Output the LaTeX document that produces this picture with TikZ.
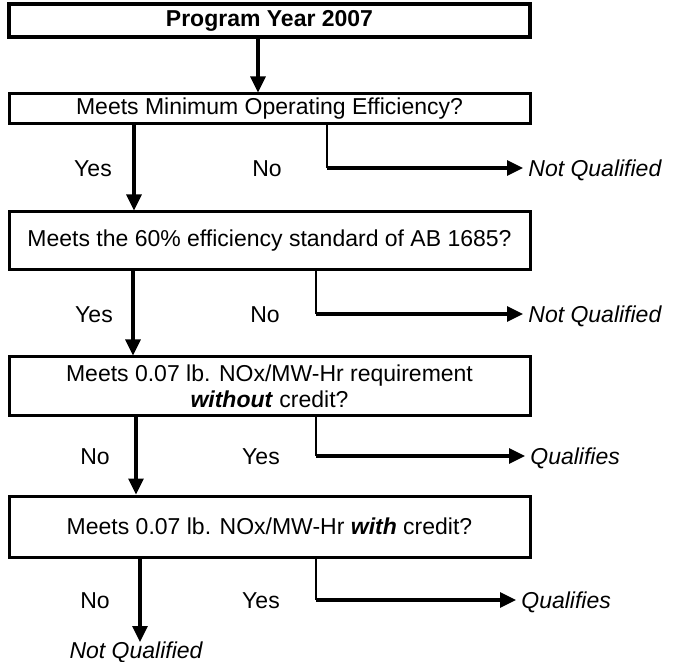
\documentclass[tikz,border=0pt]{standalone}
\usepackage{fontspec}
\setmainfont{Liberation Sans}
\usetikzlibrary{arrows.meta}
\begin{document}
\begin{tikzpicture}[x=0.5pt,y=-0.5pt,
  box/.style={draw=black,line width=1.5pt,minimum width=260.5pt,inner sep=1pt,align=center,font=\fontsize{11.5}{13}\selectfont},
  lbl/.style={font=\fontsize{11.5}{13}\selectfont,inner sep=0pt,text height=8.3pt,text depth=0pt},
  res/.style={lbl,font=\fontsize{11.5}{13}\selectfont\itshape,anchor=west,inner xsep=2.5pt},
  arr/.style={line width=1.6pt,-{Triangle[length=8pt,width=7.5pt]}},
  tee/.style={line width=0.75pt}]
\useasboundingbox (0,0) rectangle (674,662);
\node[box,line width=2.2pt,minimum height=16.5pt,font=\fontsize{11.5}{13}\selectfont\bfseries] (b1) at (269.5,20.5) {Program Year 2007};
\node[box,minimum height=15pt] (b2) at (269.5,109) {Meets Minimum Operating Efficiency?};
\node[box,minimum height=29pt] (b3) at (269.5,241) {Meets the 60\% efficiency standard of AB 1685?};
\node[box,minimum height=29pt] (b4) at (269.5,386) {Meets 0.07 lb. NOx/MW-Hr requirement\\\textbf{\textit{without}} credit?};
\node[box,minimum height=30.5pt] (b5) at (269.5,526.5) {Meets 0.07 lb. NOx/MW-Hr \textbf{\textit{with}} credit?};

\node[lbl] (y1) at (93,168) {Yes};
\node[lbl] (n1) at (267,168) {No};
\node[res] (q1) at (523,168) {Not Qualified};
\coordinate (k1) at (327,168);

\node[lbl] (y2) at (94,314) {Yes};
\node[lbl] (n2) at (265,314) {No};
\node[res] (q2) at (523,314) {Not Qualified};
\coordinate (k2) at (316,314);

\node[lbl] (n3) at (95,456) {No};
\node[lbl] (y3) at (261,456) {Yes};
\node[res] (q3) at (525,456) {Qualifies};
\coordinate (k3) at (316,456);

\node[lbl] (n4) at (95,600) {No};
\node[lbl] (y4) at (261,600) {Yes};
\node[res] (q4) at (516,600) {Qualifies};
\coordinate (k4) at (316,600);

\node[res,anchor=center] (q5) at (136,650) {Not Qualified};
\coordinate (e5) at (140,642);

\draw[arr] (b1.south -| 258,0) -- (b2.north -| 258,0);
\draw[arr] (b2.south -| 134,0) -- (b3.north -| 134,0);
\draw[arr] (b3.south -| 133,0) -- (b4.north -| 133,0);
\draw[arr] (b4.south -| 136,0) -- (b5.north -| 136,0);
\draw[arr] (b5.south -| e5) -- (e5);

\draw[tee] (b2.south -| k1) -- (k1);
\draw[arr] (k1) -- (q1);
\draw[tee] (b3.south -| k2) -- (k2);
\draw[arr] (k2) -- (q2);
\draw[tee] (b4.south -| k3) -- (k3);
\draw[arr] (k3) -- (q3);
\draw[tee] (b5.south -| k4) -- (k4);
\draw[arr] (k4) -- (q4);
\end{tikzpicture}
\end{document}
